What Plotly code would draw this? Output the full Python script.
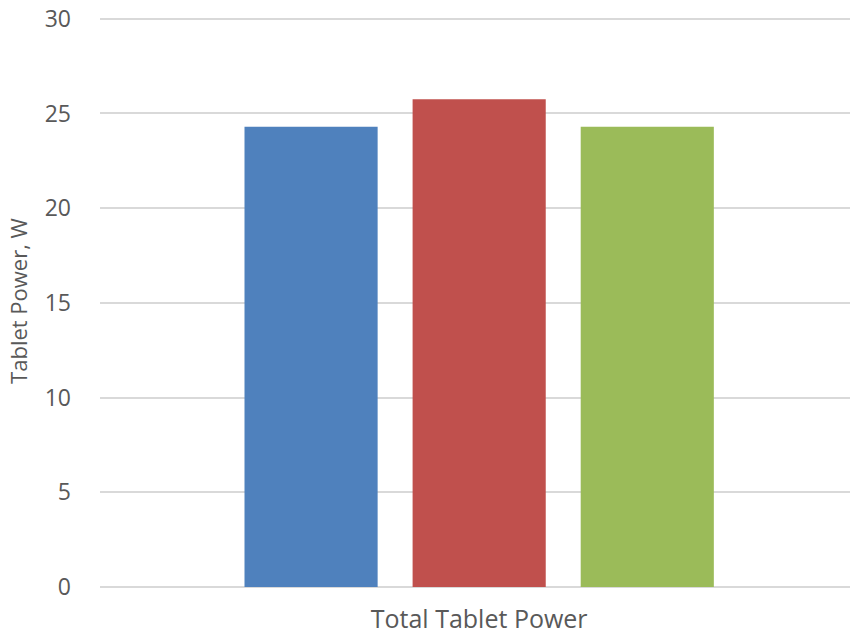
import plotly.graph_objects as go

categories = ["Total Tablet Power"]
series_names = ["Series A", "Series B", "Series C"]
series_values = [[24.3], [25.75], [24.3]]
colors = ["#4F81BD", "#C0504D", "#9BBB59"]
y_ticks = [0, 5, 10, 15, 20, 25, 30]

fig = go.Figure()
for name, vals, col in zip(series_names, series_values, colors):
    fig.add_trace(go.Bar(x=categories, y=vals, name=name, marker=dict(color=col, line=dict(width=0))))

font_family = "Open Sans, sans-serif"
fig.update_layout(
    width=850, height=637,
    margin=dict(l=100, r=0, t=15, b=50),
    plot_bgcolor="white", paper_bgcolor="white",
    barmode="group", bargap=0.335, bargroupgap=0.208,
    showlegend=False,
    font=dict(family=font_family, color="#595959"),
)
fig.update_xaxes(
    type="category", range=[-0.5, 0.489], automargin=False,
    showgrid=False, showline=False, zeroline=False, ticks="",
    tickfont=dict(size=25, color="#595959"),
    ticklabelstandoff=15,
)
fig.update_yaxes(
    range=[0, 30.2], tickvals=y_ticks, ticktext=[str(v) for v in y_ticks],
    showgrid=True, gridcolor="#D9D9D9", gridwidth=1.5,
    zeroline=True, zerolinecolor="#D9D9D9", zerolinewidth=1.5,
    showline=False, ticks="",
    tickfont=dict(size=23, color="#595959"),
    ticklabelstandoff=28,
    title=dict(text="Tablet Power, W", font=dict(size=22, color="#595959"), standoff=10),
)
fig.write_html("out.html")
